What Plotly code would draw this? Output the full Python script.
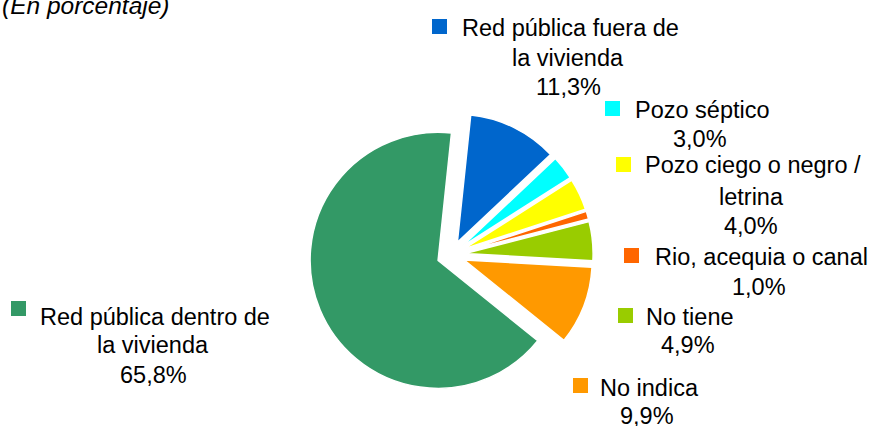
import plotly.graph_objects as go

# Tipo de desagüe de las viviendas (en porcentaje)
categorias = [
    "Red pública fuera de la vivienda",
    "Pozo séptico",
    "Pozo ciego o negro / letrina",
    "Rio, acequia o canal",
    "No tiene",
    "No indica",
    "Red pública dentro de la vivienda",
]
porcentajes = [11.3, 3.0, 4.0, 1.0, 4.9, 9.9, 65.8]
colores = ["#0066CC", "#00FFFF", "#FFFF00", "#FF6600", "#99CC00", "#FF9900", "#339966"]

# Label text split into lines as shown next to each slice
lineas_etiqueta = [
    ["Red pública fuera de", "la vivienda"],
    ["Pozo séptico"],
    ["Pozo ciego o negro /", "letrina"],
    ["Rio, acequia o canal"],
    ["No tiene"],
    ["No indica"],
    ["Red pública dentro de", "la vivienda"],
]

W, H = 870, 426
FONT = "Liberation Sans, Arial, sans-serif"
FS = 23.5

# Label placement (px): horizontal center of each block and the
# vertical center of each of its lines; key square top-left corner
centro_x = [568, 700, 751, 759, 688, 647, 153]
lineas_y = [
    [28, 58, 87],
    [110, 139],
    [165, 197, 226],
    [257, 287],
    [317, 345],
    [388, 416],
    [317, 345, 375],
]
cuadros = [(432, 19), (605, 101), (616, 157), (624, 248), (618, 308), (573, 378), (11, 301)]
LADO = 15


def fmt(v):
    return f"{v:.1f}".replace(".", ",") + "%"


fig = go.Figure(
    go.Pie(
        labels=categorias,
        values=porcentajes,
        marker=dict(colors=colores, line=dict(color="white", width=1.5)),
        sort=False,
        direction="clockwise",
        rotation=6,
        pull=[0.11] * len(porcentajes),
        textinfo="none",
        hoverinfo="label+percent",
        showlegend=False,
        domain=dict(x=[0.355, 0.682], y=[0.068, 0.735]),
    )
)

anotaciones = [
    dict(
        text="<i>(En porcentaje)</i>",
        xref="paper", yref="paper", x=0, y=1 - 6 / H,
        xanchor="left", yanchor="middle", showarrow=False,
        font=dict(family=FONT, size=24.5, color="black"),
    )
]
formas = []
for lineas, v, cx, ys, (sx, sy), col in zip(
    lineas_etiqueta, porcentajes, centro_x, lineas_y, cuadros, colores
):
    for i, (texto, cy) in enumerate(zip(lineas + [fmt(v)], ys)):
        anotaciones.append(
            dict(
                text=texto,
                xref="paper", yref="paper", x=(cx + (2 if i == 0 else 0)) / W, y=1 - cy / H,
                xanchor="center", yanchor="middle", align="center", showarrow=False,
                font=dict(family=FONT, size=FS, color="black"),
            )
        )
    formas.append(
        dict(
            type="rect", xref="paper", yref="paper",
            x0=sx / W, x1=(sx + LADO) / W, y0=1 - (sy + LADO) / H, y1=1 - sy / H,
            fillcolor=col, line=dict(width=0),
        )
    )

fig.update_layout(
    width=W,
    height=H,
    margin=dict(l=0, r=0, t=0, b=0),
    paper_bgcolor="white",
    plot_bgcolor="white",
    annotations=anotaciones,
    shapes=formas,
)

fig.write_html("out.html")
